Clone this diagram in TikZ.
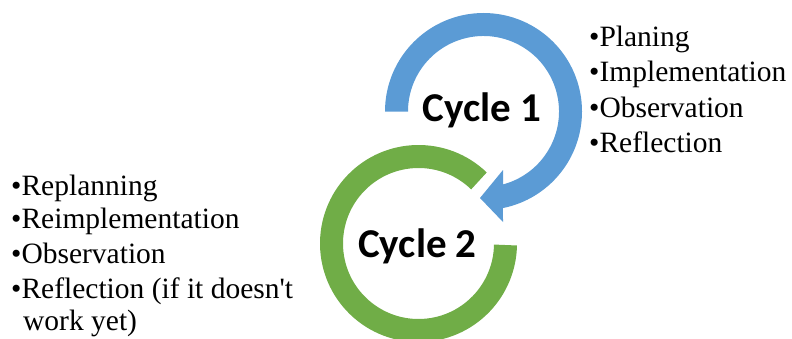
\documentclass[tikz,border=0pt]{standalone}
\usepackage{fontspec}
\setmainfont{Liberation Serif}
\newfontfamily\cycfont{Carlito}
\usetikzlibrary{calc}
\definecolor{cycblue}{HTML}{5B9BD5}
\definecolor{cycgreen}{HTML}{70AD47}
\begin{document}
\begin{tikzpicture}[x=1pt,y=1pt,
  cyclabel/.style={font=\cycfont\bfseries\fontsize{41}{41}\selectfont, inner sep=0pt, anchor=base},
  itemtext/.style={font=\fontsize{29.5}{34}\selectfont, inner sep=0pt, anchor=base west}]
\useasboundingbox (0,0) rectangle (792,338);
\coordinate (c1) at (483.5,226.5);
\coordinate (c2) at (418.5,94.5);
% green ring (cycle 2)
\draw[cycgreen, line width=23pt] ($(c2)+(46:87)$) arc[start angle=46, end angle=359, radius=87];
% blue ring with arrowhead (cycle 1)
\fill[cycblue] ($(c1)+(180:98.5)$) arc[start angle=180, end angle=-78.6, radius=98.5]
  -- (503,116) -- (480,140) -- (503,168)
  -- ($(c1)+(-75:75.5)$) arc[start angle=-75, end angle=180, radius=75.5] -- cycle;
\node[cyclabel] (cyc1) at (482,216) {Cycle 1};
\node[cyclabel] (cyc2) at (417.5,81) {Cycle 2};
% right list
\node[itemtext] (p1) at (589,291) {•Planing};
\node[itemtext] (p2) at (589,256) {•Implementation};
\node[itemtext] (p3) at (589,221) {•Observation};
\node[itemtext] (p4) at (589,186) {•Reflection};
% left list
\node[itemtext] (q1) at (11,143) {•Replanning};
\node[itemtext] (q2) at (11,110) {•Reimplementation};
\node[itemtext] (q3) at (11,75) {•Observation};
\node[itemtext] (q4) at (11,40) {•Reflection (if it doesn\textquotesingle t};
\node[itemtext] (q4b) at (23,8) {work yet)};
\end{tikzpicture}
\end{document}
